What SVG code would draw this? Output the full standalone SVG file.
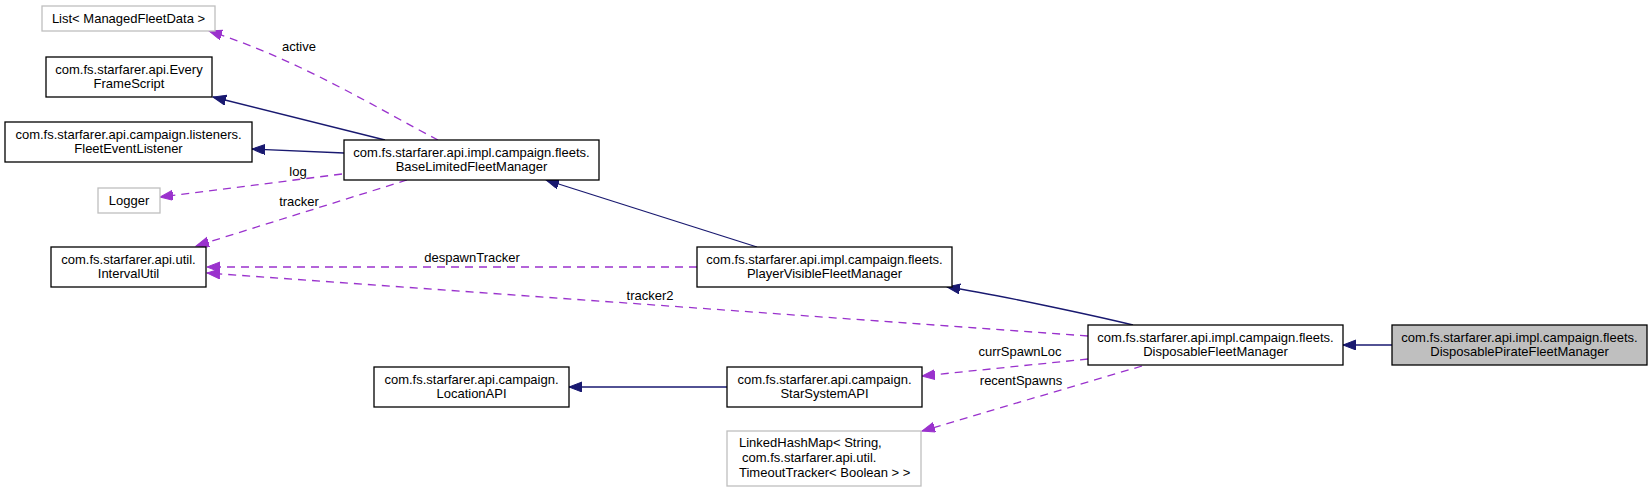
<svg xmlns="http://www.w3.org/2000/svg" width="1652" height="492" viewBox="0 0 1652 492">
<style>
.node rect{fill:#ffffff;stroke:#000000;stroke-width:1.3}
.node.gray rect{stroke:#bfbfbf}
.node.main rect{fill:#bfbfbf}
text{font-family:"Liberation Sans",Arial,Helvetica,sans-serif;font-size:13px;fill:#000000}
.c{text-anchor:middle}
.inh{stroke:#191970;stroke-width:1.3;fill:none;marker-end:url(#navy)}
.use{stroke:#9a32cd;stroke-width:1.3;fill:none;stroke-dasharray:8,6;marker-end:url(#purple)}
</style>
<defs>
<marker id="navy" markerUnits="userSpaceOnUse" markerWidth="14" markerHeight="11" refX="13" refY="5" orient="auto">
<path d="M0,0 L13,5 L0,10 z" fill="#191970" stroke="#191970" stroke-width="1"/>
</marker>
<marker id="purple" markerUnits="userSpaceOnUse" markerWidth="14" markerHeight="11" refX="13" refY="5" orient="auto">
<path d="M0,0 L13,5 L0,10 z" fill="#9a32cd" stroke="#9a32cd" stroke-width="1"/>
</marker>
</defs>
<rect width="1652" height="492" fill="#ffffff"/>
<g id="edges">
<path class="inh" d="M385,140 L213,97"/>
<path class="inh" d="M344,153 L252,149"/>
<path class="inh" d="M757,247 L546,180"/>
<path class="inh" d="M1133,325 C1100,317 1000,295 947,287"/>
<path class="inh" d="M1392,345 L1343,345"/>
<path class="inh" d="M727,387 L569,387"/>
<path class="use" d="M438,140 C380,110 300,60 209,31"/>
<path class="use" d="M342,174 L160,197"/>
<path class="use" d="M407,180 L196,246"/>
<path class="use" d="M697,267 L207,267"/>
<path class="use" d="M1088,336 L207,273"/>
<path class="use" d="M1088,359 L922,376"/>
<path class="use" d="M1142,366 L922,431"/>
<text class="c" x="299" y="51">active</text>
<text class="c" x="298" y="176">log</text>
<text class="c" x="299" y="206">tracker</text>
<text class="c" x="472" y="262">despawnTracker</text>
<text class="c" x="650" y="300">tracker2</text>
<text class="c" x="1020" y="356">currSpawnLoc</text>
<text class="c" x="1021" y="385">recentSpawns</text>
</g>
<g id="node-list" class="node gray">
<rect x="42" y="6" width="173" height="25"/>
<text class="c" x="128.5" y="22.5">List&lt; ManagedFleetData &gt;</text>
</g>
<g id="node-everyframescript" class="node">
<rect x="46" y="57" width="166" height="40"/>
<text class="c" x="129" y="73.5">com.fs.starfarer.api.Every</text>
<text class="c" x="129" y="88">FrameScript</text>
</g>
<g id="node-fleeteventlistener" class="node">
<rect x="5" y="122" width="247" height="40"/>
<text class="c" x="128.5" y="138.5">com.fs.starfarer.api.campaign.listeners.</text>
<text class="c" x="128.5" y="153">FleetEventListener</text>
</g>
<g id="node-logger" class="node gray">
<rect x="98" y="188" width="62" height="25"/>
<text class="c" x="129" y="204.5">Logger</text>
</g>
<g id="node-intervalutil" class="node">
<rect x="51" y="247" width="155" height="40"/>
<text class="c" x="128.5" y="263.5">com.fs.starfarer.api.util.</text>
<text class="c" x="128.5" y="278">IntervalUtil</text>
</g>
<g id="node-baselimited" class="node">
<rect x="344" y="140" width="255" height="40"/>
<text class="c" x="471.5" y="156.5">com.fs.starfarer.api.impl.campaign.fleets.</text>
<text class="c" x="471.5" y="171">BaseLimitedFleetManager</text>
</g>
<g id="node-locationapi" class="node">
<rect x="374" y="367" width="195" height="40"/>
<text class="c" x="471.5" y="383.5">com.fs.starfarer.api.campaign.</text>
<text class="c" x="471.5" y="398">LocationAPI</text>
</g>
<g id="node-playervisible" class="node">
<rect x="697" y="247" width="255" height="40"/>
<text class="c" x="824.5" y="263.5">com.fs.starfarer.api.impl.campaign.fleets.</text>
<text class="c" x="824.5" y="278">PlayerVisibleFleetManager</text>
</g>
<g id="node-starsystemapi" class="node">
<rect x="727" y="367" width="195" height="40"/>
<text class="c" x="824.5" y="383.5">com.fs.starfarer.api.campaign.</text>
<text class="c" x="824.5" y="398">StarSystemAPI</text>
</g>
<g id="node-linkedhashmap" class="node gray">
<rect x="727" y="431" width="194" height="55"/>
<text x="739" y="447">LinkedHashMap&lt; String,</text>
<text x="742" y="462">com.fs.starfarer.api.util.</text>
<text x="739" y="477">TimeoutTracker&lt; Boolean &gt; &gt;</text>
</g>
<g id="node-disposable" class="node">
<rect x="1088" y="325" width="255" height="40"/>
<text class="c" x="1215.5" y="341.5">com.fs.starfarer.api.impl.campaign.fleets.</text>
<text class="c" x="1215.5" y="356">DisposableFleetManager</text>
</g>
<g id="node-disposablepirate" class="node main">
<rect x="1392" y="325" width="255" height="40"/>
<text class="c" x="1519.5" y="341.5">com.fs.starfarer.api.impl.campaign.fleets.</text>
<text class="c" x="1519.5" y="356">DisposablePirateFleetManager</text>
</g>
</svg>
